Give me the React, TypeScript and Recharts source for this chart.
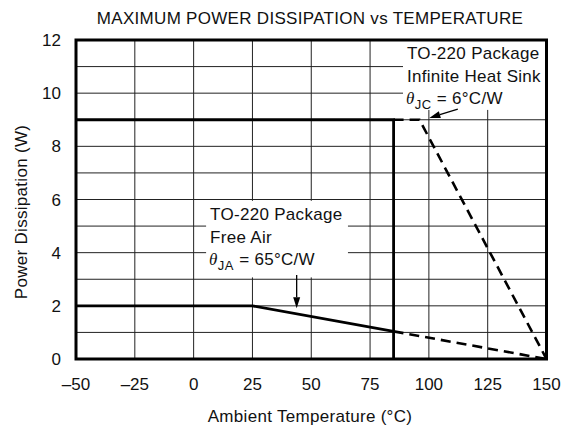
import {
  ComposedChart,
  Line,
  XAxis,
  YAxis,
  CartesianGrid,
  ReferenceArea,
  ReferenceLine,
} from 'recharts';

// Derating curves, temperature (°C) vs allowed dissipation (W)
const freeAirSolid = [
  { t: -50, p: 2 },
  { t: 25, p: 2 },
  { t: 85, p: 1.04 },
];
const freeAirDashed = [
  { t: 85, p: 1.04 },
  { t: 150, p: 0 },
];
const heatSinkSolid = [
  { t: -50, p: 9 },
  { t: 85, p: 9 },
  { t: 85, p: 0 },
];
const heatSinkDashed = [
  { t: 85, p: 9 },
  { t: 96, p: 9 },
  { t: 150, p: 0 },
];

const xTicks = [-50, -25, 0, 25, 50, 75, 100, 125, 150];
const yTicks = [0, 2, 4, 6, 8, 10, 12];
const yGrid = [0, 1, 2, 3, 4, 5, 6, 7, 8, 9, 10, 11, 12];

const freeAirNote = ['TO-220 Package', 'Free Air'];
const heatSinkNote = ['TO-220 Package', 'Infinite Heat Sink'];

const FONT = '"Liberation Sans", Arial, Helvetica, sans-serif';
const INK = '#111';

const fmtTemp = (v: number) => (v < 0 ? `\u2013${-v}` : `${v}`);

function noteShape(lines: string[], sub: string, rest: string) {
  return (props: any) => {
    const { x, y, width, height } = props;
    return (
      <g>
        <rect x={x} y={y} width={width} height={height} fill="#fff" />
        <text fontFamily={FONT} fontSize={17} letterSpacing={0.3} fill={INK}>
          {lines.map((l, i) => (
            <tspan key={l} x={x + 4} y={y + 19 + i * 23}>
              {l}
            </tspan>
          ))}
        </text>
        <text x={x + 3} y={y + 64} fontFamily={FONT} fontSize={17} letterSpacing={0.3} fill={INK}>
          <tspan fontFamily='"Liberation Serif", serif' fontStyle="italic">
            θ
          </tspan>
          <tspan fontSize={13} dy={5} letterSpacing={0.6}>
            {sub}
          </tspan>
          <tspan dy={-5}>{rest}</tspan>
        </text>
      </g>
    );
  };
}

function arrowShape(props: any) {
  const { x1, y1, x2, y2 } = props;
  const ang = Math.atan2(y2 - y1, x2 - x1);
  const len = 11;
  const hw = 3.5;
  const bx = x2 - len * Math.cos(ang);
  const by = y2 - len * Math.sin(ang);
  const nx = -Math.sin(ang) * hw;
  const ny = Math.cos(ang) * hw;
  return (
    <g>
      <line x1={x1} y1={y1} x2={bx} y2={by} stroke="#000" strokeWidth={1.3} />
      <polygon points={`${x2},${y2} ${bx + nx},${by + ny} ${bx - nx},${by - ny}`} fill="#000" />
    </g>
  );
}

export default function App() {
  return (
    <div style={{ position: 'absolute', left: 0, top: 0, background: '#fff' }}>
      <ComposedChart width={564} height={428} margin={{ top: 40, right: 17.5, bottom: 0, left: 0 }}>
        <text x={310} y={24} textAnchor="middle" fontFamily={FONT} fontSize={17} letterSpacing={0.3} fill={INK}>
          MAXIMUM POWER DISSIPATION vs TEMPERATURE
        </text>
        <text
          x={0}
          y={0}
          transform="translate(27 212) rotate(-90)"
          textAnchor="middle"
          fontFamily={FONT}
          fontSize={17}
          letterSpacing={0.3}
          fill={INK}
        >
          Power Dissipation (W)
        </text>
        <text x={310} y={422} textAnchor="middle" fontFamily={FONT} fontSize={17} letterSpacing={0.3} fill={INK}>
          Ambient Temperature (°C)
        </text>

        <CartesianGrid
          stroke="#222"
          strokeWidth={1}
          horizontalValues={yGrid}
          verticalValues={xTicks}
        />
        <XAxis
          dataKey="t"
          type="number"
          domain={[-50, 150]}
          ticks={xTicks}
          tickFormatter={fmtTemp}
          allowDataOverflow
          height={69}
          axisLine={false}
          tickLine={false}
          tickSize={0}
          tickMargin={19}
          tick={{ fill: INK, fontSize: 17, fontFamily: FONT }}
        />
        <YAxis
          type="number"
          domain={[0, 12]}
          ticks={yTicks}
          allowDataOverflow
          width={76}
          axisLine={false}
          tickLine={false}
          tickSize={0}
          tickMargin={15}
          tick={{ fill: INK, fontSize: 17, fontFamily: FONT }}
        />

        <ReferenceArea
          x1={5.3}
          x2={65.6}
          y1={3.07}
          y2={5.95}
          shape={noteShape(freeAirNote, 'JA', ' = 65°C/W')}
        />
        <ReferenceArea
          x1={89}
          x2={150}
          y1={9.37}
          y2={12}
          shape={noteShape(heatSinkNote, 'JC', ' = 6°C/W')}
        />

        <Line data={freeAirSolid} dataKey="p" type="linear" stroke="#000" strokeWidth={2.8} dot={false} isAnimationActive={false} />
        <Line data={freeAirDashed} dataKey="p" type="linear" stroke="#000" strokeWidth={2.6} strokeDasharray="10 6" dot={false} isAnimationActive={false} />
        <Line data={heatSinkSolid} dataKey="p" type="linear" stroke="#000" strokeWidth={2.8} dot={false} isAnimationActive={false} />
        <Line data={heatSinkDashed} dataKey="p" type="linear" stroke="#000" strokeWidth={2.6} strokeDasharray="10 6" dot={false} isAnimationActive={false} />

        <ReferenceArea x1={-50} x2={150} y1={0} y2={12} fill="none" stroke="#000" strokeWidth={3} />

        <ReferenceLine segment={[{ x: 112.3, y: 9.4 }, { x: 100.2, y: 9.07 }]} shape={arrowShape} />
        <ReferenceLine segment={[{ x: 43.8, y: 3.16 }, { x: 43.8, y: 1.91 }]} shape={arrowShape} />
      </ComposedChart>
    </div>
  );
}
